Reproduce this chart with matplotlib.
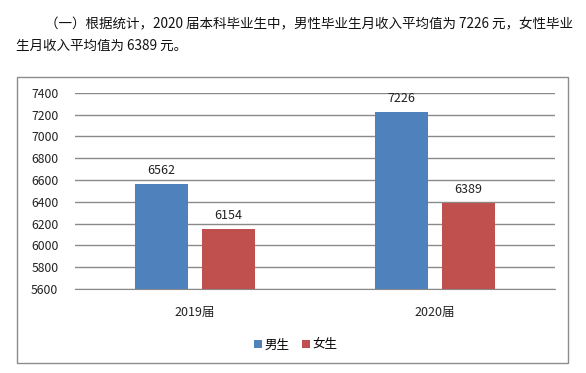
import numpy as np
import matplotlib
matplotlib.use('Agg')
import matplotlib.pyplot as plt
from matplotlib.patches import Rectangle

plt.rcParams['font.family'] = ['Noto Sans CJK SC', 'DejaVu Sans']

# data
categories = ['2019届', '2020届']
series_names = ['男生', '女生']
male_income = [6562, 7226]
female_income = [6154, 6389]
y_ticks = [5600, 5800, 6000, 6200, 6400, 6600, 6800, 7000, 7200, 7400]

intro_line1 = '（一）根据统计，2020 届本科毕业生中，男性毕业生月收入平均值为 7226 元，女性毕业'
intro_line2 = '生月收入平均值为 6389 元。'

colors = ['#4F81BD', '#C0504D']

fig = plt.figure(figsize=(5.86, 3.73), dpi=100)

# paragraph above the chart
fig.text(45 / 586, 1 - 24 / 373, intro_line1, fontsize=9.75, va='center', ha='left', color='#111111')
fig.text(16 / 586, 1 - 46 / 373, intro_line2, fontsize=9.75, va='center', ha='left', color='#111111')

# chart frame
fig.patches.append(Rectangle((17 / 586, 1 - 363 / 373), 551 / 586, 286 / 373,
                             transform=fig.transFigure, fill=False,
                             edgecolor='#8C8C8C', linewidth=1.0))

ax = fig.add_axes([75 / 586, 1 - 289 / 373, 480 / 586, (289 - 92.7) / 373])

x = np.arange(len(categories))
width = 0.22
offset = 0.139
series = [male_income, female_income]
for i, (name, vals) in enumerate(zip(series_names, series)):
    pos = x + (offset if i else -offset)
    bars = ax.bar(pos, np.array(vals) - y_ticks[0], width, bottom=y_ticks[0],
                  color=colors[i], label=name, zorder=3)
    for b, v in zip(bars, vals):
        ax.annotate(str(v), (b.get_x() + b.get_width() / 2, v),
                    xytext=(0, 5), textcoords='offset points',
                    ha='center', va='bottom', fontsize=9, color='#222222')

ax.set_xlim(-0.5, len(categories) - 0.5)
ax.set_ylim(y_ticks[0], y_ticks[-1])
ax.set_yticks(y_ticks)
ax.set_xticks(x)
ax.set_xticklabels(categories)
ax.yaxis.grid(True, color='#8A8A8A', linewidth=1.0, zorder=0)
ax.set_axisbelow(True)
for s in ['left', 'right', 'top']:
    ax.spines[s].set_visible(False)
ax.spines['bottom'].set_color('#8A8A8A')
ax.tick_params(axis='y', length=0, pad=12, labelsize=8.75, labelcolor='#222222')
ax.tick_params(axis='x', length=0, pad=12, labelsize=9, labelcolor='#222222')

fig.legend(loc='center', bbox_to_anchor=(296 / 586, 1 - 345 / 373), ncol=2,
           frameon=False, fontsize=9, handlelength=0.6, handleheight=0.6,
           handletextpad=0.25, columnspacing=1.0)

fig.savefig('out.png', dpi=100)
